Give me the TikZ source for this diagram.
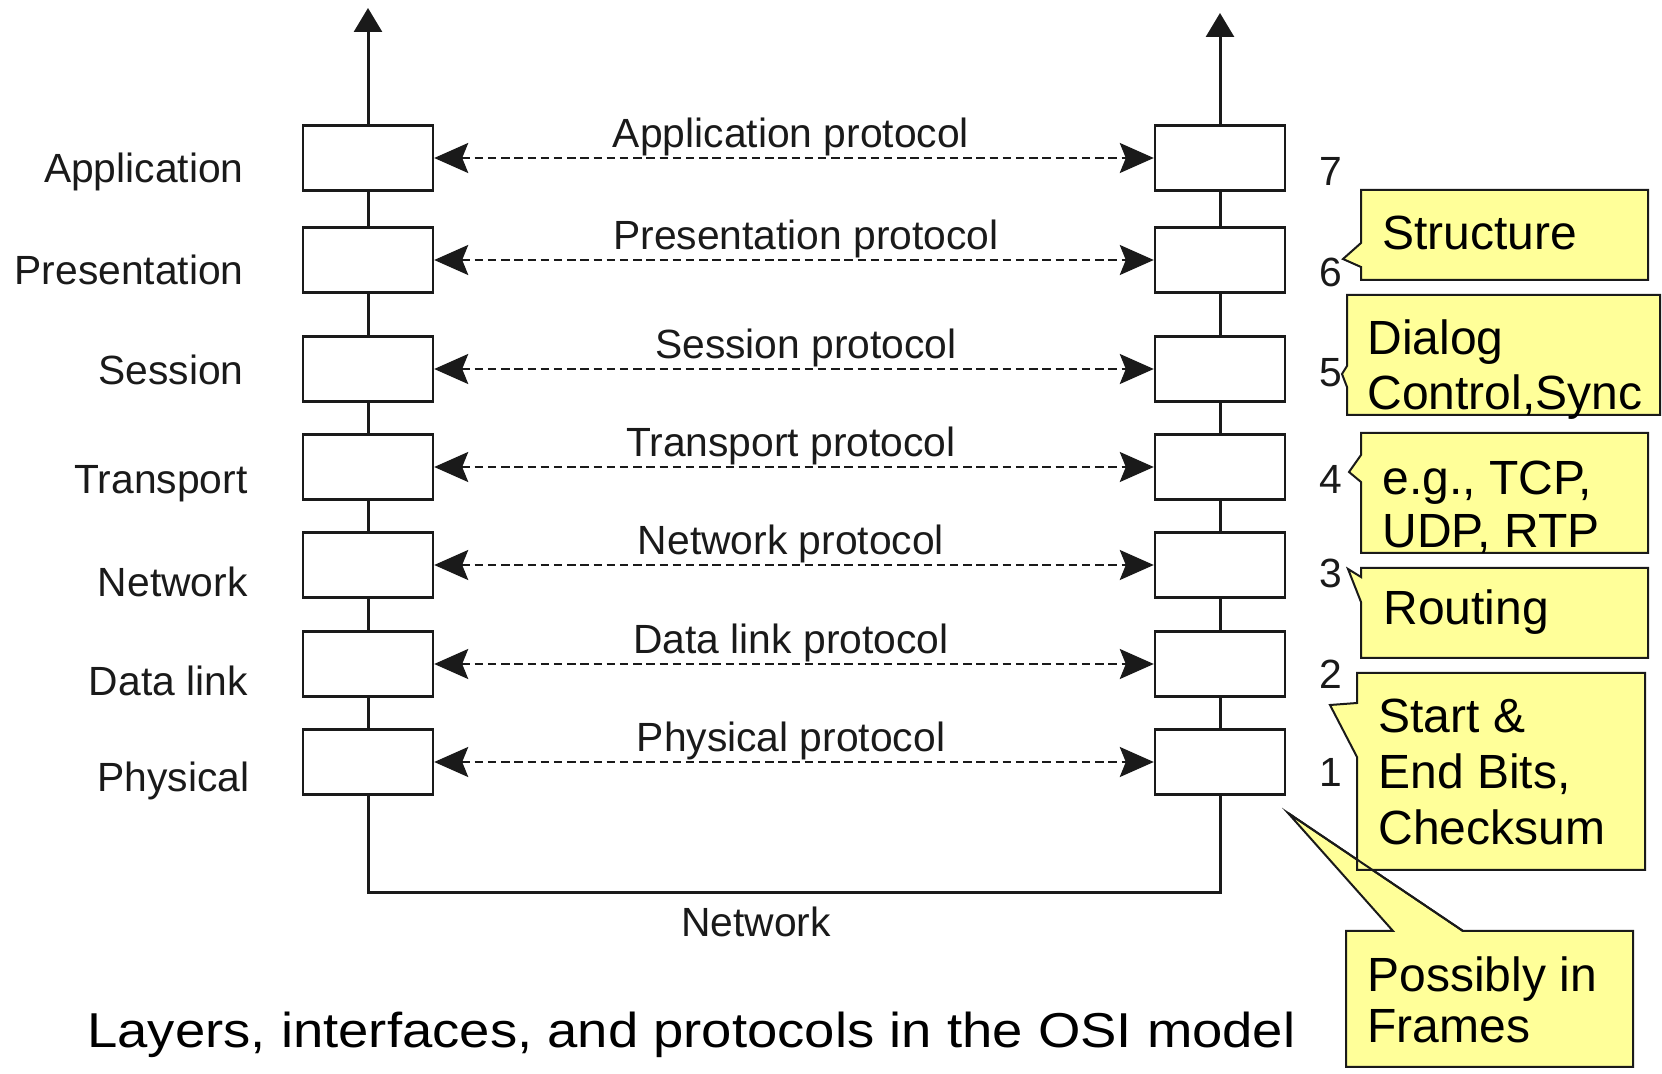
\documentclass[tikz,border=0pt]{standalone}
\usepackage{fontspec}
\setmainfont{Liberation Sans}
\usepackage{graphicx}
\usetikzlibrary{arrows.meta}
\definecolor{ink}{HTML}{1A1A1A}
\definecolor{notefill}{HTML}{FFFF99}

\begin{document}
\begin{tikzpicture}[x=0.5pt,y=-0.5pt,
  layer/.style={draw=ink, line width=1.2pt, fill=white,
    minimum width=65pt, minimum height=32.5pt, inner sep=0pt},
  stack/.style={draw=ink, line width=1.5pt},
  upward/.style={stack, -{Triangle[length=12pt,width=14pt]}},
  peer/.style={draw=ink, line width=1.15pt, dash pattern=on 4.2pt off 2.4pt,
    {Stealth[length=17pt,width=15pt,inset=3pt]}-{Stealth[length=17pt,width=15pt,inset=3pt]}},
  lbl/.style={font=\fontsize{20.4}{24}\selectfont, text=ink, inner sep=0pt},
  note/.style={fill=notefill, draw=ink, line width=1pt, line join=miter},
  notetext/.style={font=\fontsize{24}{29}\selectfont, text=black, inner sep=0pt, anchor=base west},
]
\useasboundingbox (0,0) rectangle (1662,1074);

% ---- the two protocol stacks ----
\foreach \k/\y in {app/158, pre/260, ses/369, tra/467, net/565, dl/664, phy/762}{
  \node[layer] (L\k) at (368,\y) {};
  \node[layer] (R\k) at (1220,\y) {};
}

% interfaces between adjacent layers
\foreach \a/\b in {app/pre, pre/ses, ses/tra, tra/net, net/dl, dl/phy}{
  \draw[stack] (L\a.south) -- (L\b.north);
  \draw[stack] (R\a.south) -- (R\b.north);
}

% up-going arrows above the application layer
\coordinate (topL) at (368,8);
\coordinate (topR) at (1220,13);
\draw[upward] (Lapp.north) -- (topL);
\draw[upward] (Rapp.north) -- (topR);

% physical medium joining the two hosts
\coordinate (mediumL) at (368,893);
\coordinate (mediumR) at (1220,893);
\draw[stack] (Lphy.south) -- (mediumL) -- (mediumR) -- (Rphy.south);
\node[lbl, anchor=base] (medium) at (756,937) {Network};

% ---- peer protocols ----
\foreach \k in {app, pre, ses, tra, net, dl, phy}{
  \draw[peer] (L\k.east) -- (R\k.west);
}
\node[lbl, anchor=base] (papp) at (791,148) {Application protocol};
\node[lbl, anchor=base] (ppre) at (806,250) {Presentation protocol};
\node[lbl, anchor=base] (pses) at (806,359) {Session protocol};
\node[lbl, anchor=base] (ptra) at (791,457) {Transport protocol};
\node[lbl, anchor=base] (pnet) at (791,555) {Network protocol};
\node[lbl, anchor=base] (pdl)  at (791,654) {Data link protocol};
\node[lbl, anchor=base] (pphy) at (791,752) {Physical protocol};

% ---- layer names ----
\node[lbl, anchor=base east] (napp) at (244,183) {Application};
\node[lbl, anchor=base east] (npre) at (244,285) {Presentation};
\node[lbl, anchor=base east] (nses) at (244,385) {Session};
\node[lbl, anchor=base east] (ntra) at (248,494) {Transport};
\node[lbl, anchor=base east] (nnet) at (248,597) {Network};
\node[lbl, anchor=base east] (ndl)  at (248,696) {Data link};
\node[lbl, anchor=base east] (nphy) at (250,792) {Physical};

% ---- layer numbers ----
\node[lbl, anchor=base] (k7) at (1331,186) {7};
\node[lbl, anchor=base] (k6) at (1331,287) {6};
\node[lbl, anchor=base] (k5) at (1331,387) {5};
\node[lbl, anchor=base] (k4) at (1331,494) {4};
\node[lbl, anchor=base] (k3) at (1331,588) {3};
\node[lbl, anchor=base] (k2) at (1331,689) {2};
\node[lbl, anchor=base] (k1) at (1331,787) {1};

% ---- callout notes ----
% layer 6
\draw[note] (1361,190) -- (1648,190) -- (1648,280) -- (1361,280)
  -- (1361,267) -- (1343,259) -- (1361,243) -- cycle;
\node[notetext] (t6) at (1382,250) {Structure};

% layer 5
\draw[note] (1347,295) -- (1660,295) -- (1660,415) -- (1347,415)
  -- (1347,387) -- (1342,374) -- (1347,366) -- cycle;
\node[notetext] (t5a) at (1367,355) {Dialog};
\node[notetext] (t5b) at (1367,410) {Control,Sync};

% layer 4
\draw[note] (1361,433) -- (1648,433) -- (1648,553) -- (1361,553)
  -- (1361,482) -- (1349,472) -- (1361,455) -- cycle;
\node[notetext] (t4a) at (1382,495) {e.g., TCP,};
\node[notetext] (t4b) at (1382,548) {UDP, RTP};

% layer 3
\draw[note] (1361,568) -- (1648,568) -- (1648,658) -- (1361,658)
  -- (1361,602) -- (1348,569) -- (1361,577) -- cycle;
\node[notetext] (t3) at (1383,625) {Routing};

% physical layer (drawn before the data link note, its outline redrawn after)
\draw[note] (1346,931) -- (1393,931) -- (1288,813) -- (1463,931)
  -- (1633,931) -- (1633,1067) -- (1346,1067) -- cycle;

% layer 2
\draw[note] (1357,673) -- (1645,673) -- (1645,870) -- (1357,870)
  -- (1357,757) -- (1330,705) -- (1357,703) -- cycle;
\node[notetext] (t2a) at (1378,733) {Start \&};
\node[notetext] (t2b) at (1378,789) {End Bits,};
\node[notetext] (t2c) at (1378,845) {Checksum};

\draw[draw=ink, line width=1pt] (1288,813) -- (1463,931);
\node[notetext] (t1a) at (1367,992) {Possibly in};
\node[notetext] (t1b) at (1367,1043) {Frames};

% ---- caption ----
\node[anchor=base west, inner sep=0pt, text=black,
  font=\fontsize{24.5}{29}\selectfont] (caption) at (87,1047)
  {\resizebox{604pt}{\height}{Layers, interfaces, and protocols in the OSI model}};
\end{tikzpicture}
\end{document}
